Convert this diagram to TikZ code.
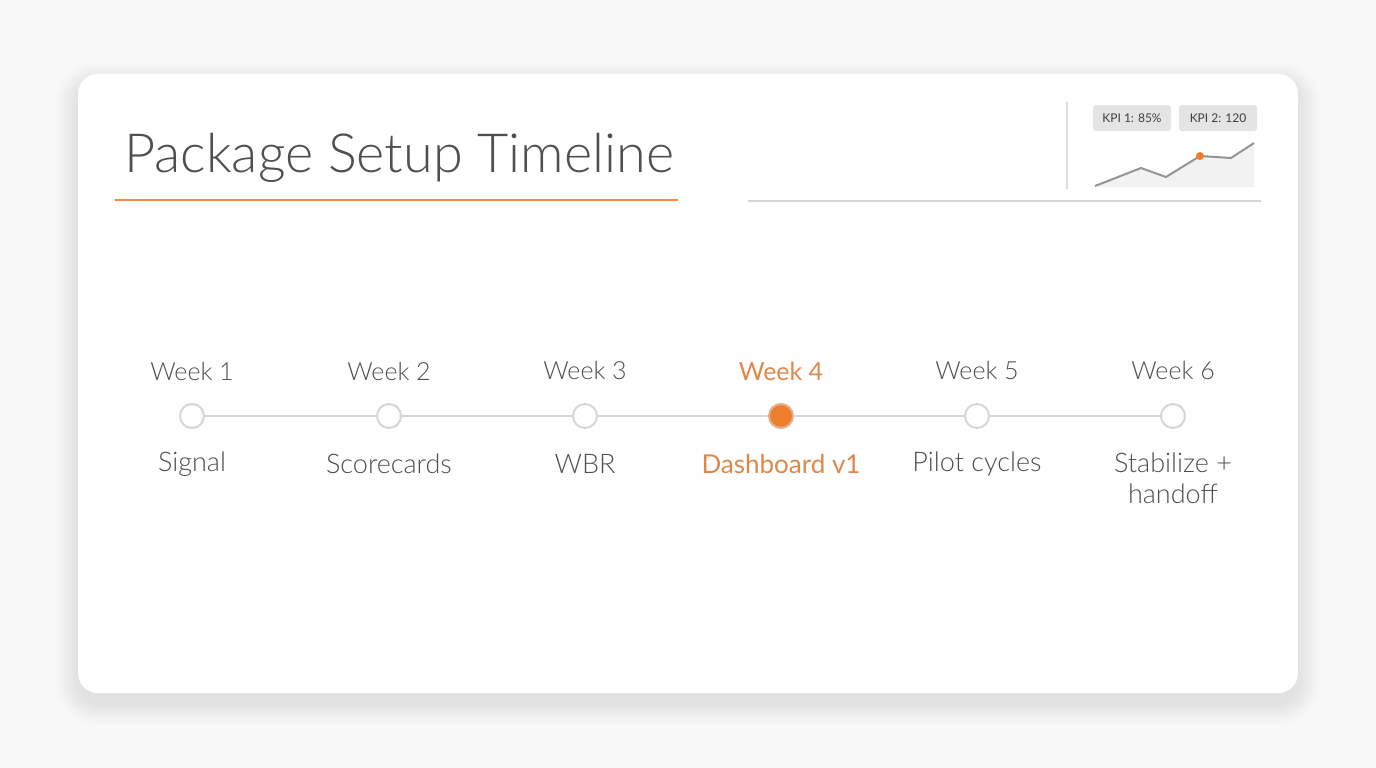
\documentclass[tikz,border=0pt]{standalone}
\usepackage{fontspec}
\setmainfont{Lato}
\newfontfamily\lightfont{Lato Light}
\definecolor{bgc}{HTML}{F8F8F8}
\definecolor{txt}{HTML}{4F4F4F}
\definecolor{orng}{HTML}{EE7D2D}
\definecolor{orngtxt}{HTML}{E0884A}
\definecolor{linec}{HTML}{D6D6D6}
\definecolor{badge}{HTML}{E4E4E4}
\tikzset{
  dot/.style={circle, minimum size=24pt, inner sep=0pt, draw=linec, line width=2pt, fill=white},
  activedot/.style={dot, fill=orng, draw=orng!40!linec},
  weeklbl/.style={font=\lightfont\fontsize{25}{30}\selectfont, text=txt},
  desclbl/.style={font=\lightfont\fontsize{27}{31}\selectfont, text=txt, align=center},
  kpi/.style={rounded corners=3pt, fill=badge, font=\fontsize{12}{14}\selectfont, text=txt!80!black, minimum width=78pt, minimum height=26pt, inner sep=0pt},
  link/.style={draw=linec, line width=2pt}
}
\begin{document}
\begin{tikzpicture}[x=1pt,y=-1pt]
\useasboundingbox (0,0) rectangle (1376,768);
\fill[bgc] (0,0) rectangle (1376,768);
% soft shadow
\foreach \i in {1,...,22}
  \fill[black, opacity=0.0045, rounded corners={20pt+\i pt}] (78-\i,84-\i) rectangle (1298+\i,703+\i);
% card
\node[fill=white, rounded corners=20pt, minimum width=1220pt, minimum height=619pt, inner sep=0pt] (card) at (688,383.5) {};
% title
\node[anchor=base west, font=\lightfont\fontsize{54}{64}\selectfont, text=txt, inner sep=0pt] (title) at (124,172) {Package Setup Timeline};
\coordinate (ul1) at (115,200); \coordinate (ul2) at (678,200);
\draw[orng!90!white, line width=2pt] (ul1) -- (ul2);
\coordinate (gl1) at (748,201); \coordinate (gl2) at (1261,201);
\draw[linec, line width=1.5pt] (gl1) -- (gl2);
\coordinate (vl1) at (1067,102); \coordinate (vl2) at (1067,189);
\draw[linec!80!white, line width=1.2pt] (vl1) -- (vl2);
% KPI badges
\node[kpi] (k1) at (1132,118) {KPI 1: 85\%};
\node[kpi] (k2) at (1218,118) {KPI 2: 120};
% sparkline
\fill[black!5] (1095,186) -- (1141,168) -- (1166,177) -- (1200,156) -- (1231,158) -- (1254,143) -- (1254,187) -- (1095,187) -- cycle;
\draw[black!42, line width=2pt, line join=round] (1095,186) -- (1141,168) -- (1166,177) -- (1200,156) -- (1231,158) -- (1254,143);
\node[circle, fill=orng, inner sep=0pt, minimum size=8pt] (sd) at (1200,156) {};
% timeline
\node[dot] (w1) at (192,416) {};
\node[dot] (w2) at (389,416) {};
\node[dot] (w3) at (585,416) {};
\node[activedot] (w4) at (781,416) {};
\node[dot] (w5) at (977,416) {};
\node[dot] (w6) at (1173,416) {};
\foreach \a/\b in {w1/w2,w2/w3,w3/w4,w4/w5,w5/w6} \draw[link] (\a) -- (\b);
\node[weeklbl] (lblw1) at (192,371) {Week 1};
\node[weeklbl] (lblw2) at (389,371) {Week 2};
\node[weeklbl] (lblw3) at (585,371) {Week 3};
\node[weeklbl, text=orngtxt, font=\fontsize{25}{30}\selectfont] (lblw4) at (781,371) {Week 4};
\node[weeklbl] (lblw5) at (977,371) {Week 5};
\node[weeklbl] (lblw6) at (1173,371) {Week 6};
\node[desclbl] (dw1) at (192,464) {Signal};
\node[desclbl] (dw2) at (389,464) {Scorecards};
\node[desclbl] (dw3) at (585,464) {WBR};
\node[desclbl, text=orngtxt, font=\fontsize{26}{31}\selectfont] (dw4) at (781,464) {Dashboard v1};
\node[desclbl] (dw5) at (977,464) {Pilot cycles};
\node[desclbl, anchor=north] (dw6) at (1173,449) {Stabilize +\\handoff};
\end{tikzpicture}
\end{document}
